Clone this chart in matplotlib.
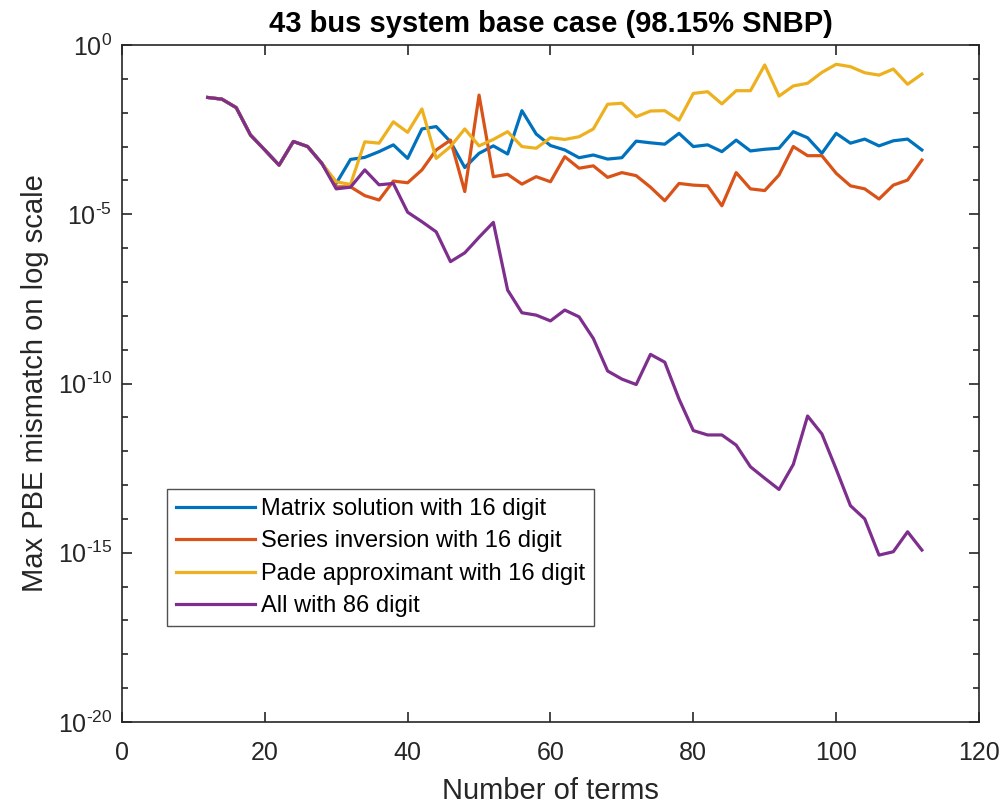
import numpy as np
import matplotlib
matplotlib.use("Agg")
from matplotlib import pyplot as plt
from matplotlib.ticker import FixedLocator, FixedFormatter, NullFormatter

plt.rcParams["font.family"] = ["Liberation Sans", "DejaVu Sans"]
plt.rcParams["mathtext.fontset"] = "custom"
plt.rcParams["mathtext.rm"] = "Liberation Sans"

# Number of terms in the power series
terms = list(range(12, 114, 2))

# Max mismatch, stored as log10 of the value
matrix_log = [-1.55, -1.60, -1.85, -2.66, -3.10, -3.55, -2.85, -3.00, -3.50,
              -4.09, -3.38, -3.32, -3.15, -2.95, -3.35, -2.48, -2.41, -2.86,
              -3.62, -3.20, -2.98, -3.22, -1.94, -2.63, -2.97, -3.10, -3.33,
              -3.25, -3.37, -3.33, -2.84, -2.89, -2.93, -2.61, -3.00, -2.95,
              -3.15, -2.81, -3.13, -3.08, -3.05, -2.56, -2.74, -3.20, -2.61,
              -2.90, -2.78, -2.98, -2.83, -2.78, -3.10]
series_log = [-1.55, -1.60, -1.85, -2.66, -3.10, -3.55, -2.85, -3.00, -3.50,
              -4.19, -4.19, -4.45, -4.58, -4.02, -4.07, -3.69, -3.10, -2.81,
              -4.33, -1.48, -3.89, -3.82, -4.11, -3.89, -4.04, -3.30, -3.64,
              -3.57, -3.91, -3.77, -3.86, -4.20, -4.60, -4.09, -4.14, -4.16,
              -4.75, -3.77, -4.25, -4.30, -3.84, -3.00, -3.27, -3.27, -3.79,
              -4.16, -4.25, -4.55, -4.14, -3.99, -3.40]
pade_log = [-1.55, -1.60, -1.85, -2.66, -3.10, -3.55, -2.85, -3.00, -3.50,
            -4.04, -4.12, -2.86, -2.90, -2.27, -2.58, -1.89, -3.35, -3.00,
            -2.48, -2.98, -2.79, -2.56, -3.00, -3.05, -2.74, -2.79, -2.71,
            -2.48, -1.75, -1.72, -2.12, -1.95, -1.94, -2.22, -1.43, -1.38,
            -1.74, -1.35, -1.35, -0.59, -1.51, -1.21, -1.13, -0.81, -0.57,
            -0.64, -0.82, -0.89, -0.71, -1.16, -0.86]
all86_log = [-1.55, -1.60, -1.85, -2.66, -3.10, -3.55, -2.85, -3.00, -3.50,
             -4.25, -4.20, -3.69, -4.13, -4.09, -4.94, -5.22, -5.52, -6.40,
             -6.14, -5.68, -5.24, -7.24, -7.91, -7.98, -8.15, -7.83, -8.03,
             -8.67, -9.63, -9.87, -10.03, -9.14, -9.37, -10.46, -11.39, -11.52,
             -11.52, -11.82, -12.46, -12.80, -13.13, -12.39, -10.96, -11.49,
             -12.53, -13.61, -14.00, -15.07, -14.97, -14.38, -14.92]

labels = ["Matrix solution with 16 digit",
          "Series inversion with 16 digit",
          "Pade approximant with 16 digit",
          "All with 86 digit"]
colors = ["#0072BD", "#D95319", "#EDB120", "#7E2F8E"]
decades = list(range(-20, 1, 5))

fig = plt.figure(figsize=(10.07, 8.05), dpi=100)
ax = fig.add_axes([0.1211, 0.1031, 0.8511, 0.841])

for vals, lab, col in zip([matrix_log, series_log, pade_log, all86_log], labels, colors):
    ax.semilogy(terms, 10.0 ** np.array(vals), color=col, lw=2.3, label=lab)

ax.set_xlim(0, 120)
ax.set_ylim(1e-20, 1e0)
ax.set_xticks(range(0, 121, 20))

# decade labels with a plain hyphen in the exponent
ax.yaxis.set_major_locator(FixedLocator([10.0 ** e for e in decades]))
ax.yaxis.set_major_formatter(FixedFormatter(
    [r"$\mathregular{10^{%s}}$" % (r"\text{-}%d" % -e if e < 0 else "0") for e in decades]))
ax.yaxis.set_minor_locator(FixedLocator([10.0 ** e for e in range(-20, 1)]))
ax.yaxis.set_minor_formatter(NullFormatter())

ax.tick_params(which="both", direction="in", top=True, right=True,
               color="#262626", width=1.2)
ax.tick_params(which="major", length=7, labelsize=18, labelcolor="#262626")
ax.tick_params(axis="x", which="major", pad=14)
ax.tick_params(axis="y", which="major", pad=7)
ax.tick_params(which="minor", length=4)
for sp in ax.spines.values():
    sp.set_color("#262626")
    sp.set_linewidth(1.2)

ax.set_xlabel("Number of terms", fontsize=21, color="#262626", labelpad=8)
ax.set_ylabel("Max PBE mismatch on log scale", fontsize=21, color="#262626", labelpad=6)
ax.set_title("43 bus system base case (98.15% SNBP)", fontsize=21,
             fontweight="bold", pad=9)

leg = ax.legend(loc="upper left", bbox_to_anchor=(0.0525, 0.344), fontsize=17,
                handlelength=3.35, frameon=True, fancybox=False,
                borderpad=0.38, labelspacing=0.44, handletextpad=0.25,
                borderaxespad=0.0)
leg.get_frame().set_edgecolor("#262626")
leg.get_frame().set_linewidth(1.0)

fig.savefig("out.png", dpi=100)
